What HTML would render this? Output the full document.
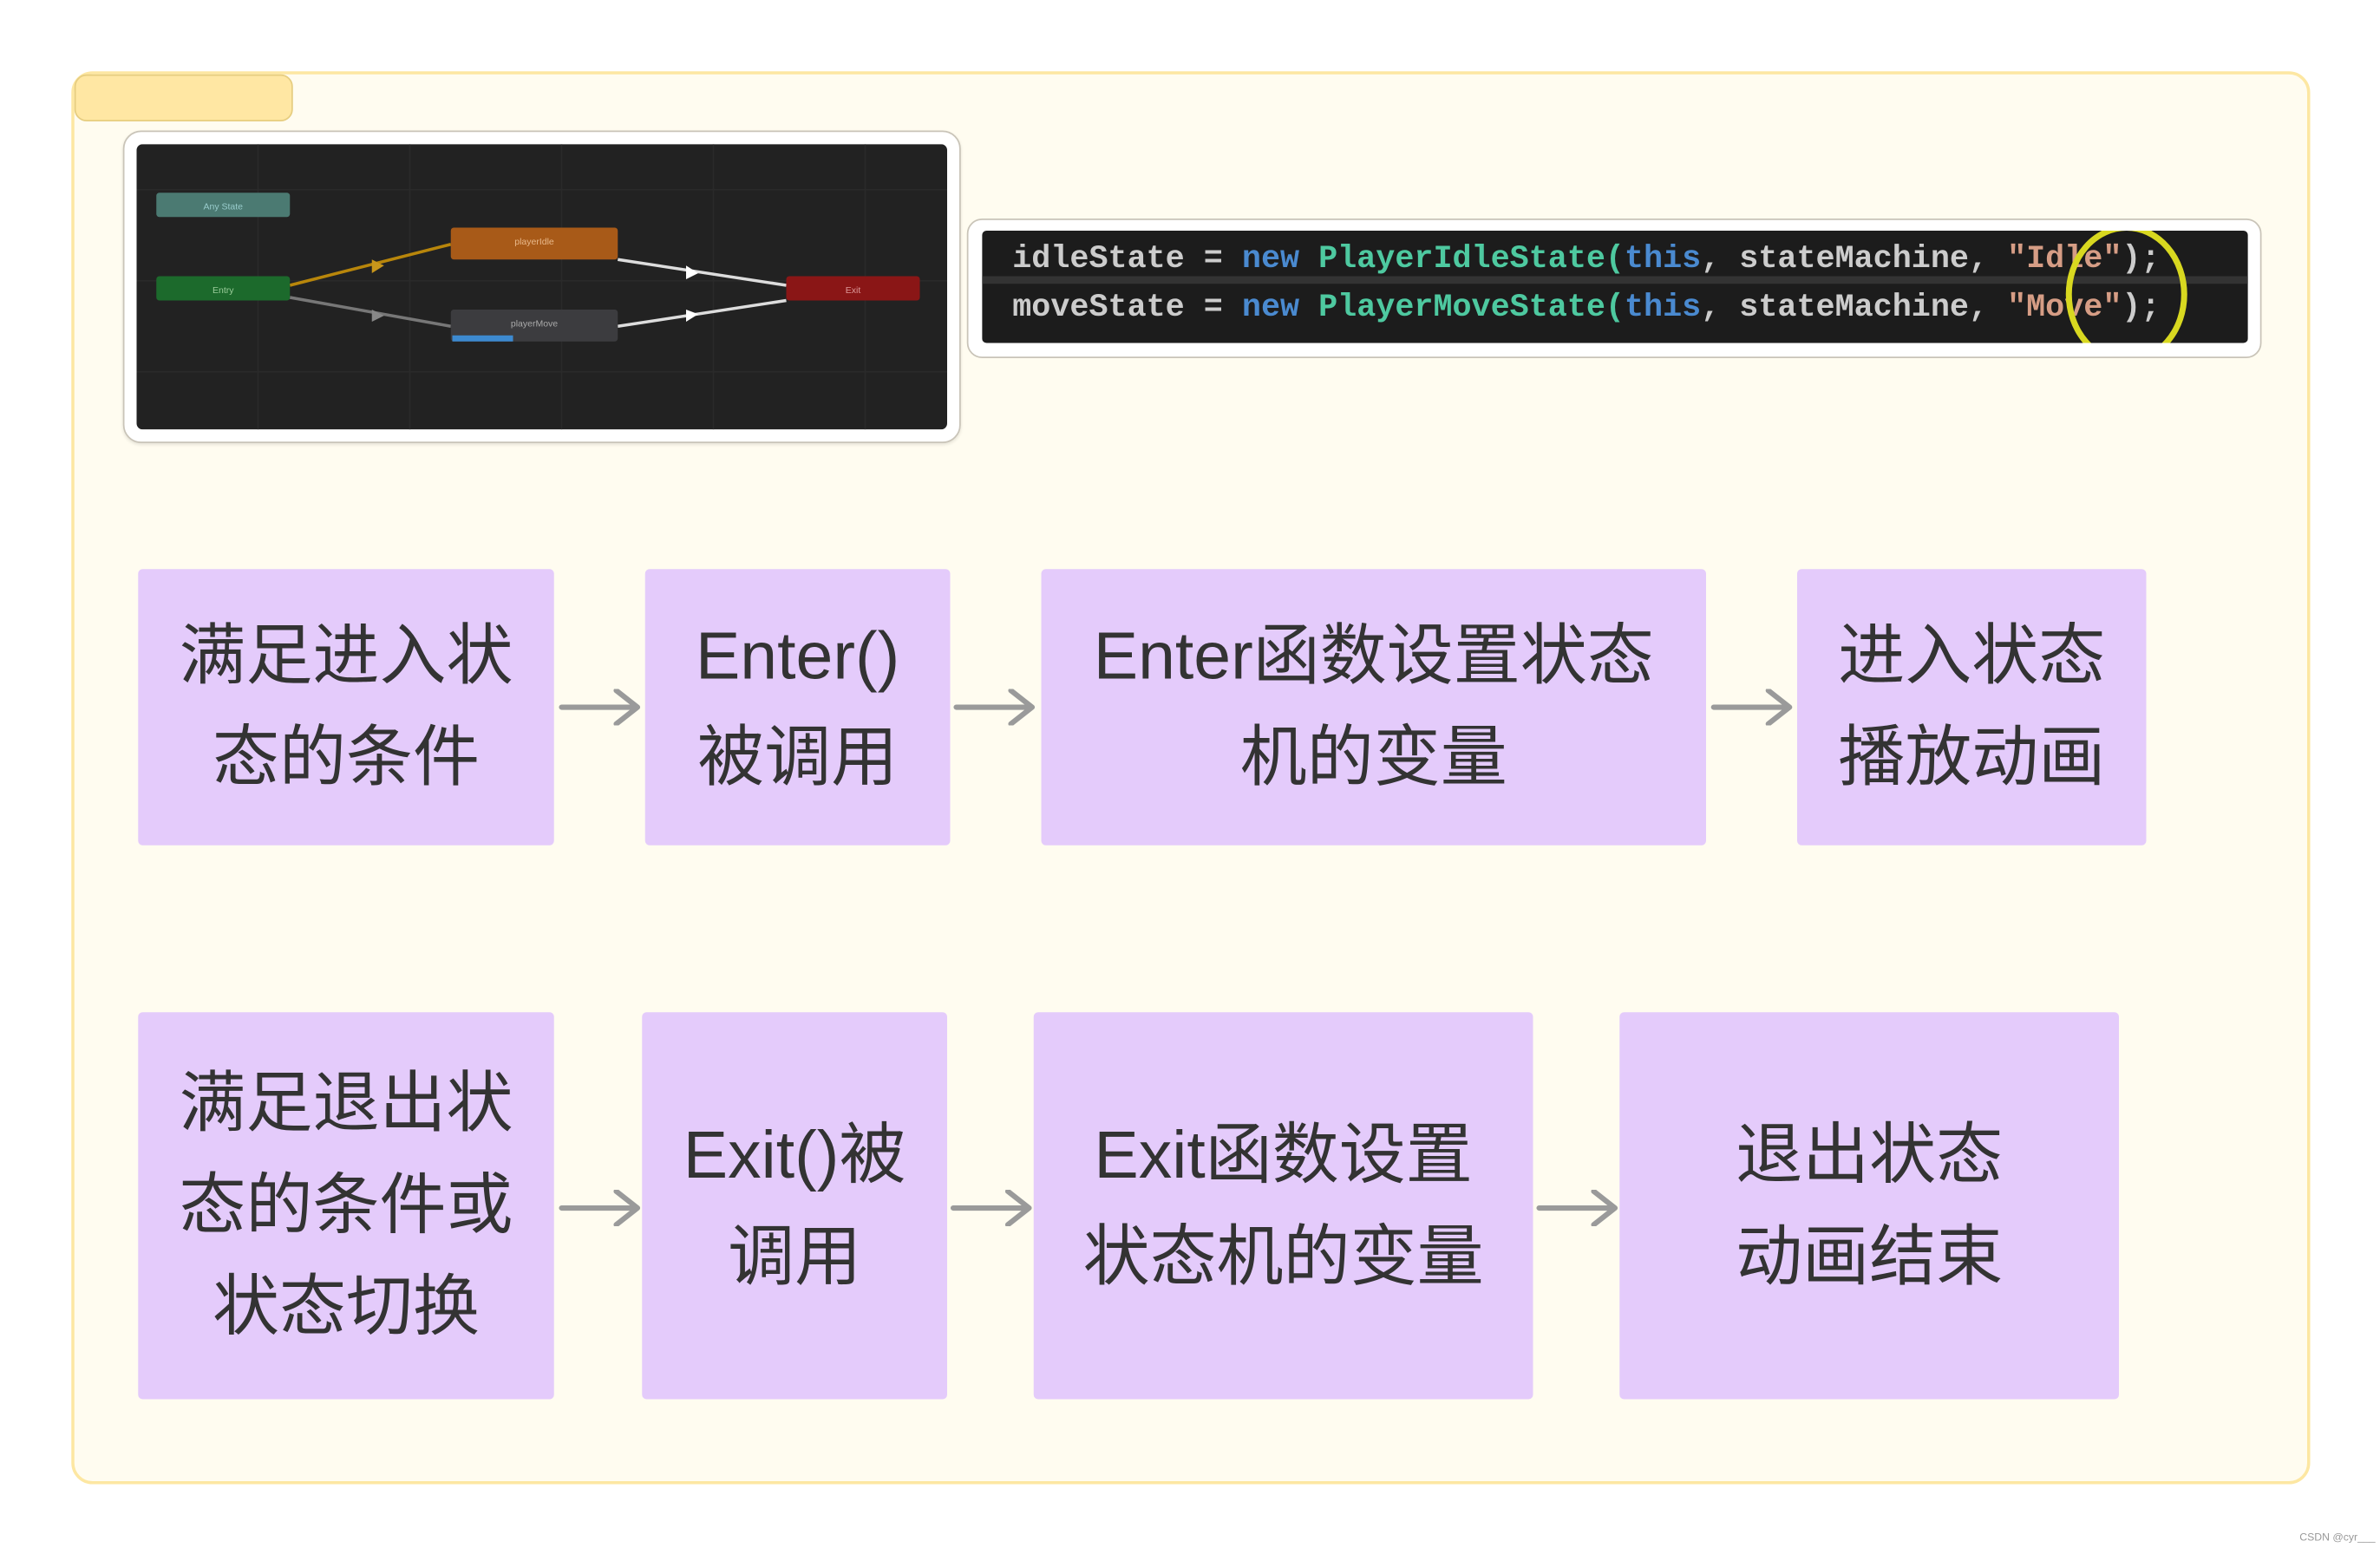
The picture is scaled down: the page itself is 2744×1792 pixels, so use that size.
<!DOCTYPE html>
<html><head><meta charset="utf-8"><style>
html,body{margin:0;padding:0;background:#fff;width:2744px;height:1792px;overflow:hidden}
#w{position:absolute;left:0;top:0;width:1568px;height:1024px;transform:scale(1.75);transform-origin:0 0;font-family:"Liberation Sans","Noto Sans CJK SC",sans-serif}
.a{position:absolute;box-sizing:border-box}
.b{position:absolute;background:#e4cbfb;border-radius:3px;display:flex;align-items:center;justify-content:center;text-align:center;color:#333;font-size:44px;line-height:67px}
.ar{position:absolute;width:54px;height:24px}
</style></head><body><div id="w">
<div class="a" style="left:47px;top:47px;width:1475px;height:931px;background:#fffcf0;border:2px solid #fde7a2;border-radius:14px"></div>
<div class="a" style="left:49px;top:49px;width:144px;height:31px;background:#ffe7a3;border:1px solid #e6cd80;border-radius:8px"></div>
<div class="a" style="left:81px;top:86px;width:552px;height:206px;background:#fff;border:1px solid #c9c4b8;border-radius:12px;box-shadow:0 1px 2px rgba(0,0,0,.1)"></div>
<svg class="a" style="left:90px;top:95px" width="534" height="188" viewBox="0 0 534 188">
<rect width="534" height="188" rx="4" fill="#222"/>
<g stroke="#2a2a2a" stroke-width="1"><line x1="0" y1="30" x2="534" y2="30"/><line x1="0" y1="90" x2="534" y2="90"/><line x1="0" y1="150" x2="534" y2="150"/><line x1="80" y1="0" x2="80" y2="188"/><line x1="180" y1="0" x2="180" y2="188"/><line x1="280" y1="0" x2="280" y2="188"/><line x1="380" y1="0" x2="380" y2="188"/><line x1="480" y1="0" x2="480" y2="188"/></g>
<line x1="101" y1="93" x2="207" y2="66" stroke="#b8860b" stroke-width="2"/>
<line x1="101" y1="101" x2="207" y2="120" stroke="#777" stroke-width="2"/>
<line x1="317" y1="76" x2="428" y2="93" stroke="#ddd" stroke-width="2"/>
<line x1="317" y1="120" x2="428" y2="103" stroke="#ddd" stroke-width="2"/>
<polygon points="155,76 163,80 155,85" fill="#c8961b"/><polygon points="155,109 163,113 155,117" fill="#888"/>
<polygon points="362,80 370,85 362,89" fill="#fff"/><polygon points="362,109 370,112 362,117" fill="#fff"/>
<rect x="13" y="32" width="88" height="16" rx="2" fill="#4b7a72"/><text x="57" y="43" font-size="6" fill="#9cc" text-anchor="middle">Any State</text>
<rect x="13" y="87" width="88" height="16" rx="2" fill="#1c6a2c"/><text x="57" y="98" font-size="6" fill="#9c9" text-anchor="middle">Entry</text>
<rect x="207" y="55" width="110" height="21" rx="2" fill="#a85a18"/><text x="262" y="66" font-size="6" fill="#e8b88a" text-anchor="middle">playerIdle</text>
<rect x="207" y="109" width="110" height="21" rx="2" fill="#3c3c3f"/><rect x="208" y="126" width="40" height="4" fill="#3d8ad0"/><text x="262" y="120" font-size="6" fill="#aaa" text-anchor="middle">playerMove</text>
<rect x="428" y="87" width="88" height="16" rx="2" fill="#8a1616"/><text x="472" y="98" font-size="6" fill="#d99" text-anchor="middle">Exit</text>
</svg>
<div class="a" style="left:637px;top:144px;width:853px;height:92px;background:#fff;border:1px solid #c9c4b8;border-radius:10px"></div>
<svg class="a" style="left:647px;top:152px" width="834" height="74" viewBox="0 0 834 74">
<rect width="834" height="74" rx="3" fill="#1c1c1c"/>
<rect y="30" width="834" height="5" fill="#333"/>
<g font-family="Liberation Mono,monospace" font-size="21" font-weight="bold">
<text x="20" y="24"><tspan fill="#ccc">idleState = </tspan><tspan fill="#4a8ad0">new </tspan><tspan fill="#4ec9a0">PlayerIdleState(</tspan><tspan fill="#4a8ad0">this</tspan><tspan fill="#ccc">, stateMachine, </tspan><tspan fill="#d69d85">"Idle"</tspan><tspan fill="#ccc">);</tspan></text>
<text x="20" y="56"><tspan fill="#ccc">moveState = </tspan><tspan fill="#4a8ad0">new </tspan><tspan fill="#4ec9a0">PlayerMoveState(</tspan><tspan fill="#4a8ad0">this</tspan><tspan fill="#ccc">, stateMachine, </tspan><tspan fill="#d69d85">"Move"</tspan><tspan fill="#ccc">);</tspan></text>
</g>
<ellipse cx="754" cy="42" rx="38" ry="44" fill="none" stroke="#d8d820" stroke-width="4"/>
</svg>
<div class="b" style="left:91px;top:375px;width:274px;height:182px">满足进入状<br>态的条件</div>
<div class="b" style="left:425px;top:375px;width:201px;height:182px">Enter()<br>被调用</div>
<div class="b" style="left:686px;top:375px;width:438px;height:182px">Enter函数设置状态<br>机的变量</div>
<div class="b" style="left:1184px;top:375px;width:230px;height:182px">进入状态<br>播放动画</div>
<div class="b" style="left:91px;top:667px;width:274px;height:255px">满足退出状<br>态的条件或<br>状态切换</div>
<div class="b" style="left:423px;top:667px;width:201px;height:255px">Exit()被<br>调用</div>
<div class="b" style="left:681px;top:667px;width:329px;height:255px">Exit函数设置<br>状态机的变量</div>
<div class="b" style="left:1067px;top:667px;width:329px;height:255px">退出状态<br>动画结束</div>
<svg width="0" height="0" style="position:absolute"><defs><g id="arr"><path d="M2 12 H52 M38 1 L52 12 L38 23" fill="none" stroke="#9a9a9a" stroke-width="3.5" stroke-linecap="round" stroke-linejoin="round"/></g></defs></svg>
<svg class="ar" style="left:368px;top:454px"><use href="#arr"/></svg>
<svg class="ar" style="left:628px;top:454px"><use href="#arr"/></svg>
<svg class="ar" style="left:1127px;top:454px"><use href="#arr"/></svg>
<svg class="ar" style="left:368px;top:784px"><use href="#arr"/></svg>
<svg class="ar" style="left:626px;top:784px"><use href="#arr"/></svg>
<svg class="ar" style="left:1012px;top:784px"><use href="#arr"/></svg>
<div class="a" style="left:1515px;top:1010px;font-size:7px;color:#999">CSDN @cyr___</div>
</div></body></html>
